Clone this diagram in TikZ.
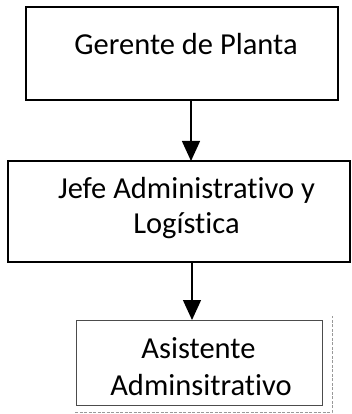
\documentclass[tikz,border=0pt]{standalone}
\usepackage{fontspec}
\setmainfont[Ligatures=NoCommon]{Carlito}
\usetikzlibrary{arrows.meta}
\tikzset{
  orgbox/.style={draw=black, line width=1.4pt, fill=white},
  greybox/.style={draw=black!70, line width=1pt, fill=white},
  shade/.style={draw=black!40, line width=1pt, dash pattern=on 3pt off 1.5pt},
  lbl/.style={anchor=base, inner sep=0pt, font=\fontsize{30.5}{36}\selectfont},
  conn/.style={line width=1.4pt, -{Triangle[width=18pt,length=20pt]}}
}
\begin{document}
\begin{tikzpicture}[x=1pt,y=-1pt]
\useasboundingbox (0,0) rectangle (352,414);
\draw[orgbox] (26,7) rectangle (338,100);
\coordinate (b1s) at (191,100);
\node[lbl] (t1) at (186,55) {Gerente de Planta};
\draw[orgbox] (8,161) rectangle (350,262);
\coordinate (b2n) at (191,161);
\coordinate (b2s) at (192,262);
\node[lbl] (t2a) at (186.5,198) {Jefe Administrativo y};
\node[lbl] (t2b) at (186.5,233) {Logística};
\coordinate (s1) at (75,412);
\coordinate (s2) at (332,412);
\coordinate (s3) at (332,316);
\draw[shade] (s1) -- (s2) -- (s3);
\draw[greybox] (76,320) rectangle (322,405);
\coordinate (b3n) at (192,320);
\node[lbl] (t3a) at (198.5,358) {Asistente};
\node[lbl] (t3b) at (201,395) {Adminsitrativo};
\draw[conn] (b1s) -- (b2n);
\draw[conn] (b2s) -- (b3n);
\end{tikzpicture}
\end{document}
